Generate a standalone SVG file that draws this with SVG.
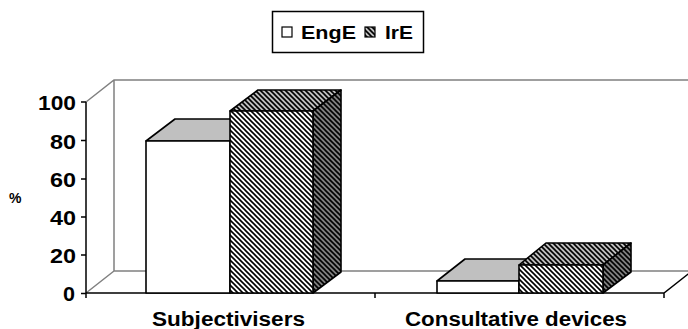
<svg xmlns="http://www.w3.org/2000/svg" width="688" height="329" viewBox="0 0 688 329">
<style>
text{font-family:"Liberation Sans",Arial,sans-serif;font-weight:bold;fill:#000}
.ax{font-size:20px}
.cat{font-size:20px}
.leg{font-size:18px}
.wall{stroke:#808080;stroke-width:1.5;fill:none}
.axis{stroke:#000;stroke-width:1.5;fill:none}
.edge{stroke:#000;stroke-width:1.6;stroke-linejoin:round}
</style>
<defs>
<pattern id="hw" patternUnits="userSpaceOnUse" width="5" height="5">
<rect width="5" height="5" fill="#fff"/>
<path d="M-1,-1 L6,6 M4,-1 L6,1 M-1,4 L1,6" stroke="#000" stroke-width="1.6"/>
</pattern>
<pattern id="hg" patternUnits="userSpaceOnUse" width="5" height="5">
<rect width="5" height="5" fill="#c0c0c0"/>
<path d="M-1,-1 L6,6 M4,-1 L6,1 M-1,4 L1,6" stroke="#000" stroke-width="1.6"/>
</pattern>
<pattern id="hd" patternUnits="userSpaceOnUse" width="5" height="5">
<rect width="5" height="5" fill="#808080"/>
<path d="M-1,-1 L6,6 M4,-1 L6,1 M-1,4 L1,6" stroke="#000" stroke-width="1.6"/>
</pattern>
</defs>

<g id="legend">
<rect x="272.5" y="11.5" width="151" height="41" fill="#fff" stroke="#000" stroke-width="1.5"/>
<rect x="282" y="27" width="10" height="10" fill="#fff" stroke="#000" stroke-width="1.2"/>
<text class="leg" x="301" y="39" textLength="55" lengthAdjust="spacingAndGlyphs">EngE</text>
<rect x="365" y="27" width="10" height="10" fill="url(#hg)" stroke="#000" stroke-width="1.2"/>
<text class="leg" x="385" y="39" textLength="28" lengthAdjust="spacingAndGlyphs">IrE</text>
</g>

<g id="walls">
<path class="wall" d="M86,102 L114,80 L690,80 M114,80 L114,271 L690,271 M86,293 L114,271"/>
</g>

<g id="axes">
<path class="axis" d="M86,102 L86,293.5 M81,102 L86,102 M81,140.5 L86,140.5 M81,179 L86,179 M81,217 L86,217 M81,255 L86,255 M81,293.5 L86,293.5 M86,293 L664,293 L692,271 M86,293 L86,298 M375,293 L375,298 M664,293 L664,298"/>
<text class="ax" x="38" y="110" textLength="38" lengthAdjust="spacingAndGlyphs">100</text>
<text class="ax" x="50" y="148.5" textLength="26" lengthAdjust="spacingAndGlyphs">80</text>
<text class="ax" x="50" y="187" textLength="26" lengthAdjust="spacingAndGlyphs">60</text>
<text class="ax" x="50" y="225" textLength="26" lengthAdjust="spacingAndGlyphs">40</text>
<text class="ax" x="50" y="263" textLength="26" lengthAdjust="spacingAndGlyphs">20</text>
<text class="ax" x="63" y="301" textLength="12" lengthAdjust="spacingAndGlyphs">0</text>
<text x="9" y="203" style="font-size:14px">%</text>
<text class="cat" x="152" y="326" textLength="153" lengthAdjust="spacingAndGlyphs">Subjectivisers</text>
<text class="cat" x="405" y="326" textLength="222" lengthAdjust="spacingAndGlyphs">Consultative devices</text>
</g>

<g id="bar-engE-subj">
<polygon class="edge" points="146,141 175,119 258,119 230,141" fill="#c0c0c0"/>
<rect class="edge" x="146" y="141" width="84" height="152" fill="#fff"/>
</g>

<g id="bar-irE-subj">
<polygon class="edge" points="230,111 258,90 341,90 313,111" fill="url(#hg)"/>
<polygon class="edge" points="313,111 341,90 341,272 313,293" fill="url(#hd)"/>
<rect class="edge" x="230" y="111" width="83" height="182" fill="url(#hw)"/>
</g>

<g id="bar-engE-cons">
<polygon class="edge" points="437,281 465,259 547,259 519,281" fill="#c0c0c0"/>
<rect class="edge" x="437" y="281" width="82" height="12" fill="#fff"/>
</g>

<g id="bar-irE-cons">
<polygon class="edge" points="519,265 546,243 631,243 603,265" fill="url(#hg)"/>
<polygon class="edge" points="603,265 631,243 631,272 603,293" fill="url(#hd)"/>
<rect class="edge" x="519" y="265" width="84" height="28" fill="url(#hw)"/>
</g>
</svg>
